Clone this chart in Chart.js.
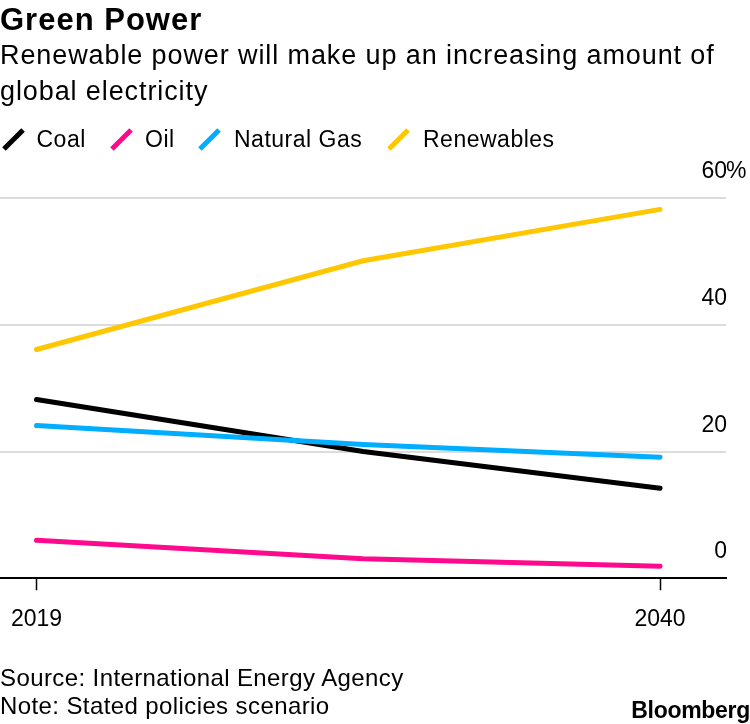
<!DOCTYPE html>
<html>
<head>
<meta charset="utf-8">
<script src="https://cdn.jsdelivr.net/npm/chart.js@4/dist/chart.umd.min.js"></script>
<style>
  html, body { margin: 0; padding: 0; background: #fff; }
  body { width: 750px; height: 724px; position: relative; overflow: hidden;
         font-family: "Liberation Sans", Arial, sans-serif; color: #000; }
  #chart { position: absolute; left: 0; top: 0; }
  .t { position: absolute; white-space: nowrap; }
  #title { left: 0; top: 3.8px; font-size: 31px; line-height: 31px; font-weight: bold; letter-spacing: 1px; }
  #subtitle { left: 0; top: 36.9px; font-size: 27px; line-height: 36.5px; letter-spacing: 0.9px; }
  .lg { top: 127.8px; font-size: 23px; line-height: 23px; letter-spacing: 0.5px; }
  .mk { position: absolute; top: 126px; width: 5px; height: 27px; transform: rotate(45deg); }
  #source { left: 0; top: 663.9px; font-size: 24px; line-height: 28.5px; letter-spacing: 0.4px; }
  #logo { right: 0; top: 698.5px; font-size: 23px; line-height: 23px; font-weight: bold; letter-spacing: -0.3px; }
</style>
</head>
<body>
<canvas id="chart" width="750" height="724"></canvas>
<div class="t" id="title">Green Power</div>
<div class="t" id="subtitle">Renewable power will make up an increasing amount of<br>global electricity</div>

<div class="mk" style="left:10.5px;background:#000"></div>
<div class="t lg" style="left:36.5px">Coal</div>
<div class="mk" style="left:118.5px;background:#ff0a8c"></div>
<div class="t lg" style="left:145px">Oil</div>
<div class="mk" style="left:206.5px;background:#00adff"></div>
<div class="t lg" style="left:234px">Natural Gas</div>
<div class="mk" style="left:396px;background:#ffc700"></div>
<div class="t lg" style="left:423px">Renewables</div>

<div class="t" id="source">Source: International Energy Agency<br>Note: Stated policies scenario</div>
<div class="t" id="logo">Bloomberg</div>

<script>
// ---- Data (share of global electricity, %) ----
const years = [2019, 2030, 2040];
const coal = [28.2, 20.0, 14.2];
const oil = [6.0, 3.1, 1.9];
const naturalGas = [24.1, 21.1, 19.1];
const renewables = [36.1, 50.1, 58.2];
const xTickValues = [2019, 2040];
const yTickValues = [0, 20, 40, 60];
const yTickLabels = ['0', '20', '40', '60'];
const yUnit = '%';

const toPoints = (vals) => vals.map((v, i) => ({ x: years[i], y: v }));

const baseDs = {
  borderWidth: 5,
  pointRadius: 0,
  pointHoverRadius: 0,
  tension: 0,
  borderCapStyle: 'round',
  borderJoinStyle: 'round',
  fill: false,
  clip: false
};

const TICK_FONT = { family: '"Liberation Sans", Arial, sans-serif', size: 23 };
const Y_LABEL_OFFSET = -26.2;
const Y_LABEL_PAD = 1;

// draws the unit sign after the top tick label of the y scale
const unitPlugin = {
  id: 'unitSign',
  afterDraw(chart) {
    const s = chart.scales.y;
    const ctx = chart.ctx;
    const top = yTickValues[yTickValues.length - 1];
    ctx.save();
    ctx.font = TICK_FONT.size + 'px ' + TICK_FONT.family;
    ctx.fillStyle = '#000';
    ctx.textAlign = 'left';
    ctx.textBaseline = 'middle';
    ctx.fillText(yUnit, s.left + Y_LABEL_PAD - 1, s.getPixelForValue(top) + Y_LABEL_OFFSET);
    ctx.restore();
  }
};

new Chart(document.getElementById('chart'), {
  type: 'line',
  data: {
    datasets: [
      Object.assign({ label: 'Renewables', data: toPoints(renewables), borderColor: '#ffc700', order: 0 }, baseDs),
      Object.assign({ label: 'Natural Gas', data: toPoints(naturalGas), borderColor: '#00adff', order: 1 }, baseDs),
      Object.assign({ label: 'Coal', data: toPoints(coal), borderColor: '#000000', order: 2 }, baseDs),
      Object.assign({ label: 'Oil', data: toPoints(oil), borderColor: '#ff0a8c', order: 3 }, baseDs)
    ]
  },
  plugins: [unitPlugin],
  options: {
    responsive: false,
    devicePixelRatio: 1,
    animation: false,
    events: [],
    layout: { padding: { top: 198, bottom: 85.7, left: 0, right: 0 } },
    plugins: { legend: { display: false }, tooltip: { enabled: false }, title: { display: false } },
    scales: {
      x: {
        type: 'linear',
        position: 'bottom',
        min: 2017.77,
        max: 2042.22,
        afterBuildTicks: (s) => { s.ticks = xTickValues.map(v => ({ value: v })); },
        afterFit: (s) => { s.height = 60; s.paddingLeft = 0; s.paddingRight = 0; },
        grid: { display: true, drawOnChartArea: false, drawTicks: true, tickLength: 12, tickColor: '#000', tickWidth: 1.5 },
        border: { display: true, color: '#000', width: 2 },
        ticks: {
          padding: 16,
          maxRotation: 0,
          autoSkip: false,
          color: '#000',
          font: TICK_FONT,
          callback: (v) => String(v)
        }
      },
      y: {
        type: 'linear',
        position: 'right',
        min: 0,
        max: 60,
        afterBuildTicks: (s) => { s.ticks = yTickValues.map(v => ({ value: v })); },
        afterFit: (s) => { s.width = 24; s.paddingTop = 0; s.paddingBottom = 0; },
        grid: {
          drawTicks: false,
          lineWidth: 2,
          color: (ctx) => (ctx.tick && ctx.tick.value === 0) ? 'rgba(0,0,0,0)' : '#dcdcdc'
        },
        border: { display: false },
        ticks: {
          mirror: true,
          crossAlign: 'near',
          padding: Y_LABEL_PAD,
          labelOffset: Y_LABEL_OFFSET,
          color: '#000',
          font: TICK_FONT,
          callback: (v) => yTickLabels[yTickValues.indexOf(v)]
        }
      }
    }
  }
});
</script>
</body>
</html>
